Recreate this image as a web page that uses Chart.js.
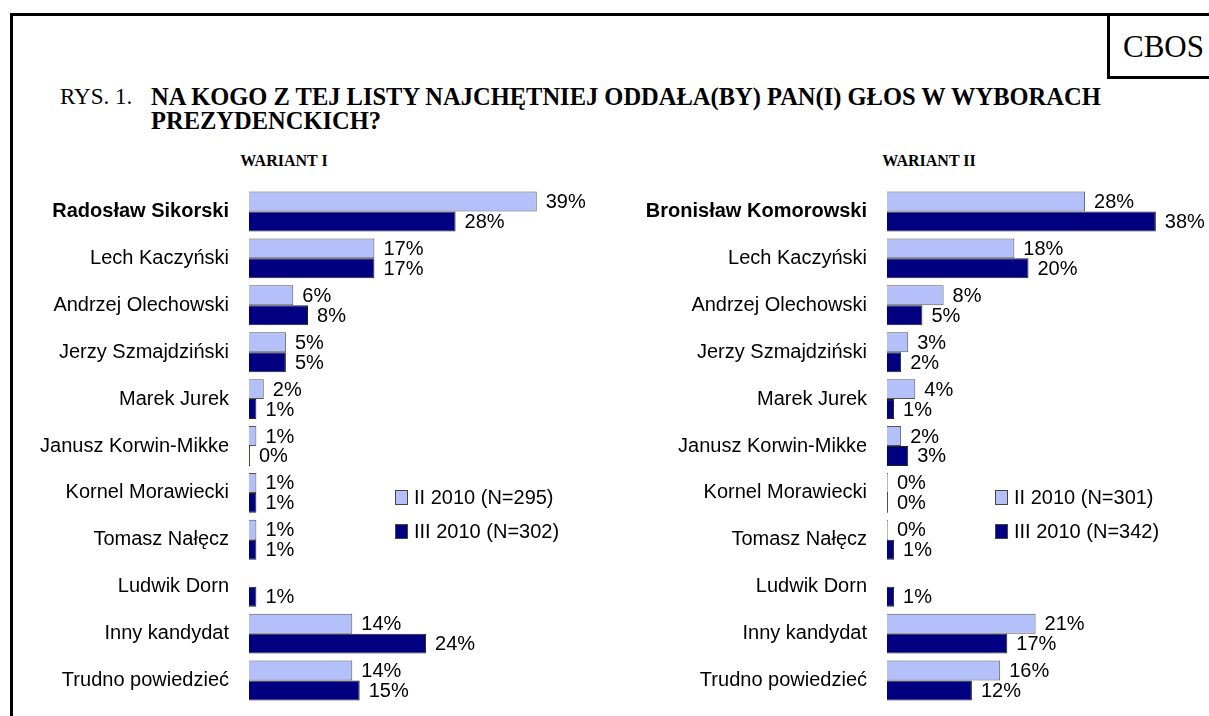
<!DOCTYPE html>
<html>
<head>
<meta charset="utf-8">
<script src="https://cdn.jsdelivr.net/npm/chart.js@4"></script>
<style>
  body { margin: 0; background: #fff; }
  #page { position: relative; width: 1209px; height: 716px; overflow: hidden; }
  .frame-top { position: absolute; left: 10px; top: 13px; width: 1199px; height: 0; border-top: 3px solid #000; }
  .frame-left { position: absolute; left: 10px; top: 13px; width: 0; height: 703px; border-left: 3px solid #000; }
  .cbos { position: absolute; left: 1107px; top: 13px; width: 102px; height: 66px; border-left: 3px solid #000; border-bottom: 3px solid #000;
          font-family: "Liberation Serif", serif; font-size: 31px; line-height: 68px; padding-left: 13px; box-sizing: border-box; }
  .rys { position: absolute; left: 60px; top: 85px; font-family: "Liberation Serif", serif; font-size: 23px; line-height: 24px; }
  .title { position: absolute; left: 151px; top: 85px; width: 1000px; font-family: "Liberation Serif", serif; font-size: 24.5px; font-weight: bold; line-height: 24px; }
  .wariant { position: absolute; top: 152px; width: 300px; text-align: center; font-family: "Liberation Serif", serif; font-size: 16px; font-weight: bold; }
  canvas { position: absolute; }
</style>
</head>
<body>
<div id="page">
  <div class="frame-top"></div>
  <div class="frame-left"></div>
  <div class="cbos">CBOS</div>
  <div class="rys">RYS. 1.</div>
  <div class="title">NA KOGO Z TEJ LISTY NAJCHĘTNIEJ ODDAŁA(BY) PAN(I) GŁOS W WYBORACH<br>PREZYDENCKICH?</div>
  <div class="wariant" style="left:134px">WARIANT I</div>
  <div class="wariant" style="left:779px">WARIANT II</div>
  <canvas id="chartLeft" width="600" height="536" style="left:0; top:180px"></canvas>
  <canvas id="chartRight" width="609" height="536" style="left:600px; top:180px"></canvas>
</div>
<script>
const candidatesLeft = ['Radosław Sikorski', 'Lech Kaczyński', 'Andrzej Olechowski', 'Jerzy Szmajdziński', 'Marek Jurek',
  'Janusz Korwin-Mikke', 'Kornel Morawiecki', 'Tomasz Nałęcz', 'Ludwik Dorn', 'Inny kandydat', 'Trudno powiedzieć'];
const candidatesRight = ['Bronisław Komorowski', 'Lech Kaczyński', 'Andrzej Olechowski', 'Jerzy Szmajdziński', 'Marek Jurek',
  'Janusz Korwin-Mikke', 'Kornel Morawiecki', 'Tomasz Nałęcz', 'Ludwik Dorn', 'Inny kandydat', 'Trudno powiedzieć'];

// wariant I
const febLeft = [39, 17, 6, 5, 2, 1, 1, 1, null, 14, 14];
const marLeft = [28, 17, 8, 5, 1, 0, 1, 1, 1, 24, 15];
const febLeftLabel = 'II 2010 (N=295)';
const marLeftLabel = 'III 2010 (N=302)';

// wariant II
const febRight = [28, 18, 8, 3, 4, 2, 0, 0, null, 21, 16];
const marRight = [38, 20, 5, 2, 1, 3, 0, 1, 1, 17, 12];
const febRightLabel = 'II 2010 (N=301)';
const marRightLabel = 'III 2010 (N=342)';

const lightBlue = 'rgb(179, 192, 250)';
const navy = 'rgb(0, 0, 128)';
const sans = '"Liberation Sans", Arial, sans-serif';
const labelFont = '20px ' + sans;

// percent labels next to bar ends
const valueLabels = {
  id: 'valueLabels',
  afterDatasetsDraw(chart) {
    const ctx = chart.ctx;
    ctx.save();
    ctx.font = labelFont;
    ctx.fillStyle = '#000';
    ctx.textBaseline = 'middle';
    chart.data.datasets.forEach((ds, i) => {
      chart.getDatasetMeta(i).data.forEach((bar, j) => {
        const v = ds.data[j];
        if (v === null) return;
        ctx.fillText(v + '%', bar.x + 9, bar.y + 1);
      });
    });
    ctx.restore();
  }
};

// legend boxes inside the plot
const boxLegend = {
  id: 'boxLegend',
  afterDraw(chart, args, opts) {
    const ctx = chart.ctx;
    ctx.save();
    ctx.font = labelFont;
    ctx.textBaseline = 'middle';
    chart.data.datasets.forEach((ds, i) => {
      const y = opts.y + i * opts.gap;
      ctx.fillStyle = ds.backgroundColor;
      ctx.fillRect(opts.x, y - 7, 13, 15);
      ctx.strokeStyle = '#444';
      ctx.lineWidth = 1;
      ctx.strokeRect(opts.x + 0.5, y - 6.5, 12, 14);
      ctx.fillStyle = '#000';
      ctx.fillText(ds.label, opts.x + 19, y + 1);
    });
    ctx.restore();
  }
};

function makeChart(id, labels, feb, mar, febLabel, marLabel, axisLeft, xMax, padRight) {
  return new Chart(document.getElementById(id), {
    type: 'bar',
    data: {
      labels: labels,
      datasets: [
        { label: febLabel, data: feb, backgroundColor: lightBlue, borderColor: '#555', borderWidth: 1, minBarLength: 1 },
        { label: marLabel, data: mar, backgroundColor: navy, borderColor: '#222', borderWidth: 1, minBarLength: 1 }
      ]
    },
    options: {
      indexAxis: 'y',
      responsive: false,
      animation: false,
      devicePixelRatio: 1,
      categoryPercentage: 40 / 47,
      barPercentage: 1,
      layout: { padding: { top: 8, bottom: 12, right: padRight, left: 0 } },
      scales: {
        x: { display: false, min: 0, max: xMax },
        y: {
          grid: { display: false, drawTicks: false },
          border: { display: false },
          ticks: {
            color: '#000',
            padding: 20,
            font: (c) => ({ family: sans, size: 20, weight: c.index === 0 ? 'bold' : 'normal' })
          },
          afterFit: (scale) => {
            scale.width = axisLeft;
            scale.paddingTop = 0;
            scale.paddingBottom = 0;
          }
        }
      },
      plugins: {
        legend: { display: false },
        tooltip: { enabled: false },
        boxLegend: { x: 395, y: 317, gap: 34 }
      }
    },
    plugins: [valueLabels, boxLegend]
  });
}

makeChart('chartLeft', candidatesLeft, febLeft, marLeft, febLeftLabel, marLeftLabel, 249, 45, 19);
makeChart('chartRight', candidatesRight, febRight, marRight, febRightLabel, marRightLabel, 287, 40, 39);
</script>
</body>
</html>
